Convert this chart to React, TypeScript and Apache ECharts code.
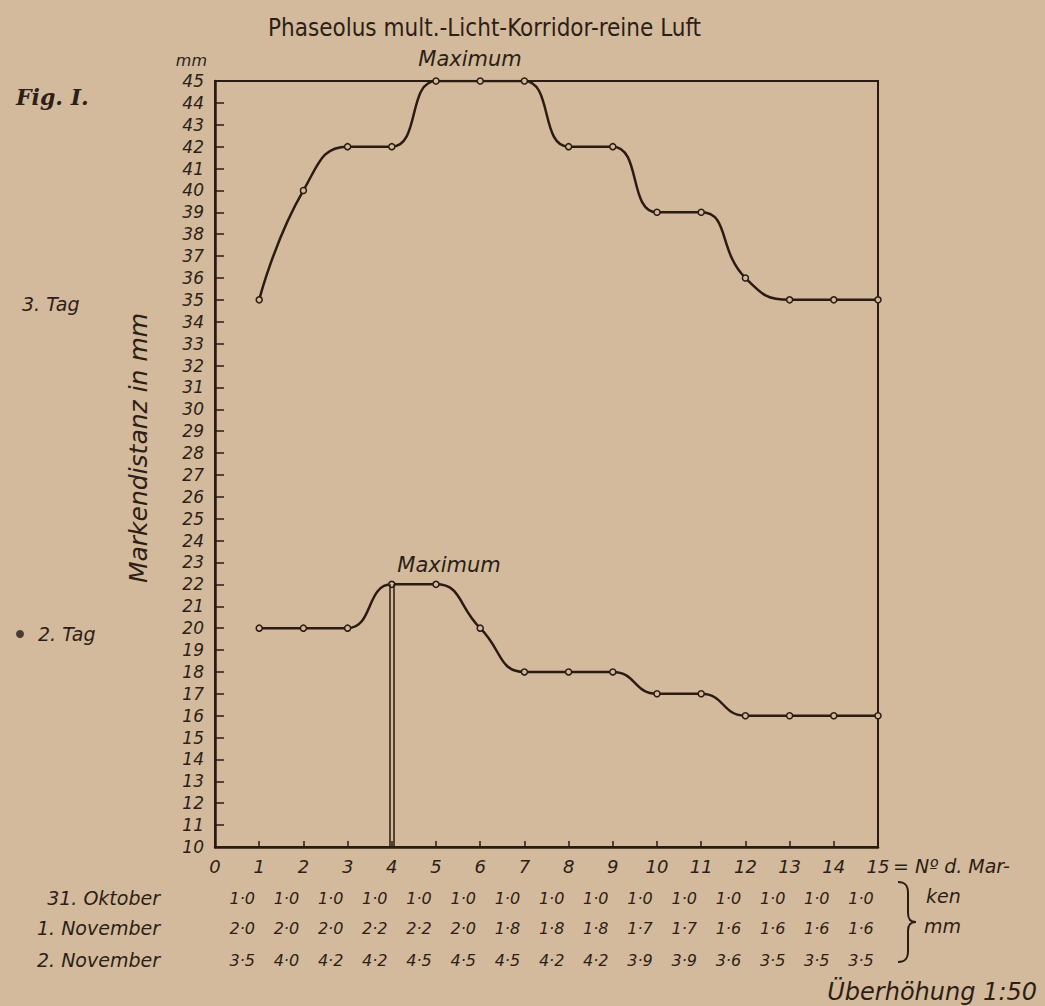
import React, { useEffect, useRef } from "react";
import * as echarts from "echarts";

// Marker numbers (x) and measured distances (mm)
const markerNumbers = [1, 2, 3, 4, 5, 6, 7, 8, 9, 10, 11, 12, 13, 14, 15];
const tag3Values = [35, 40, 42, 42, 45, 45, 45, 42, 42, 39, 39, 36, 35, 35, 35];
const tag2Values = [20, 20, 20, 22, 22, 20, 18, 18, 18, 17, 17, 16, 16, 16, 16];

// Table below the chart (values in cm)
const rowOct31 = [1.0, 1.0, 1.0, 1.0, 1.0, 1.0, 1.0, 1.0, 1.0, 1.0, 1.0, 1.0, 1.0, 1.0, 1.0];
const rowNov1 = [2.0, 2.0, 2.0, 2.2, 2.2, 2.0, 1.8, 1.8, 1.8, 1.7, 1.7, 1.6, 1.6, 1.6, 1.6];
const rowNov2 = [3.5, 4.0, 4.2, 4.2, 4.5, 4.5, 4.5, 4.2, 4.2, 3.9, 3.9, 3.6, 3.5, 3.5, 3.5];
const rowLabels = ["31. Oktober", "1. November", "2. November"];

const title = "Phaseolus mult.-Licht-Korridor-reine Luft";

const BG = "#d3ba9c";
const INK = "#2d1e16";
const LINE = "#2a1b13";
const HAND = "'DejaVu Sans', 'Liberation Sans', sans-serif";

const BRACE_D =
  "M0,0 C7,0 10,3 10,11 L10,31 C10,37 12,40 18,40 C12,40 10,43 10,49 L10,69 C10,77 7,80 0,80";
echarts.graphic.registerShape("brace", (echarts.graphic as any).extendPath(BRACE_D, {}));

const fmt = (v: number) => v.toFixed(1).replace(".", "·");

function tableAxis(row: number[], margin: number) {
  return {
    type: "value",
    position: "bottom",
    min: 0,
    max: 15,
    interval: 1,
    axisLine: { show: false },
    axisTick: { show: false },
    splitLine: { show: false },
    axisLabel: {
      margin,
      color: INK,
      fontFamily: HAND,
      fontStyle: "italic",
      fontSize: 16,
      padding: [0, 34, 0, 0],
      formatter: (v: number) => {
        const i = Math.round(v) - 1;
        return i >= 0 && i < row.length ? fmt(row[i]) : "";
      },
    },
  };
}

export default function App() {
  const ref = useRef<HTMLDivElement>(null);
  useEffect(() => {
    if (!ref.current) return;
    const chart = echarts.init(ref.current, undefined, { renderer: "svg" });
    const italic = { fill: INK, fontFamily: HAND, fontStyle: "italic" };
    chart.setOption({
      animation: false,
      backgroundColor: BG,
      grid: {
        left: 215,
        right: 167,
        top: 81,
        bottom: 159,
        show: true,
        borderColor: LINE,
        borderWidth: 2,
        backgroundColor: "transparent",
      },
      xAxis: [
        {
          type: "value",
          min: 0,
          max: 15,
          interval: 1,
          axisLine: { lineStyle: { color: LINE, width: 2.5 } },
          axisTick: { inside: true, length: 6, lineStyle: { color: LINE, width: 1.5 } },
          splitLine: { show: false },
          axisLabel: {
            margin: 10,
            color: INK,
            fontFamily: HAND,
            fontStyle: "italic",
            fontSize: 18,
          },
        },
        tableAxis(rowOct31, 43),
        tableAxis(rowNov1, 73),
        tableAxis(rowNov2, 105),
      ],
      yAxis: {
        type: "value",
        min: 10,
        max: 45,
        interval: 1,
        axisLine: { lineStyle: { color: LINE, width: 2.5 } },
        axisTick: { inside: true, length: 9, lineStyle: { color: LINE, width: 1.5 } },
        splitLine: { show: false },
        axisLabel: {
          margin: 11,
          color: INK,
          fontFamily: HAND,
          fontStyle: "italic",
          fontSize: 17,
        },
      },
      series: [
        {
          name: "3. Tag",
          type: "line",
          smooth: 0.5,
          data: markerNumbers.map((m, i) => [m, tag3Values[i]]),
          symbol: "circle",
          symbolSize: 6,
          itemStyle: { color: BG, borderColor: LINE, borderWidth: 1.5 },
          lineStyle: { color: LINE, width: 2.5 },
        },
        {
          name: "2. Tag",
          type: "line",
          smooth: 0.5,
          data: markerNumbers.map((m, i) => [m, tag2Values[i]]),
          symbol: "circle",
          symbolSize: 6,
          itemStyle: { color: BG, borderColor: LINE, borderWidth: 1.5 },
          lineStyle: { color: LINE, width: 2.5 },
          markLine: {
            silent: true,
            symbol: ["none", "none"],
            label: { show: false },
            lineStyle: { color: LINE, width: 1.5, type: "solid" },
            data: [
              [{ coord: [3.95, 22] }, { coord: [3.95, 10] }],
              [{ coord: [4.05, 22] }, { coord: [4.05, 10] }],
            ],
          },
        },
      ],
      graphic: [
        {
          type: "text",
          left: 268,
          top: 16,
          style: {
            text: title,
            fill: INK,
            fontFamily: "'Liberation Sans Narrow', 'DejaVu Sans Condensed', 'DejaVu Sans', sans-serif",
            fontSize: 24,
          },
        },
        { type: "text", x: 16, y: 97, style: { ...italic, text: "Fig. I.", fontSize: 22, fontWeight: "bold", fontFamily: "'DejaVu Serif', serif", verticalAlign: "middle" } },
        { type: "text", x: 207, y: 60, style: { ...italic, text: "mm", fontSize: 16, align: "right", verticalAlign: "middle" } },
        { type: "text", x: 470, y: 59, style: { ...italic, text: "Maximum", fontSize: 21, align: "center", verticalAlign: "middle" } },
        { type: "text", x: 449, y: 565, style: { ...italic, text: "Maximum", fontSize: 21, align: "center", verticalAlign: "middle" } },
        { type: "text", x: 22, y: 304, style: { ...italic, text: "3. Tag", fontSize: 19, verticalAlign: "middle" } },
        { type: "circle", shape: { cx: 20, cy: 634, r: 4 }, style: { fill: "#4a3a36" } },
        { type: "text", x: 38, y: 634, style: { ...italic, text: "2. Tag", fontSize: 19, verticalAlign: "middle" } },
        {
          type: "text",
          x: 138,
          y: 448,
          rotation: Math.PI / 2,
          style: { ...italic, text: "Markendistanz in mm", fontSize: 25, align: "center", verticalAlign: "middle" },
        },
        { type: "text", x: 160, y: 898, style: { ...italic, text: rowLabels[0], fontSize: 19, align: "right", verticalAlign: "middle" } },
        { type: "text", x: 160, y: 928, style: { ...italic, text: rowLabels[1], fontSize: 19, align: "right", verticalAlign: "middle" } },
        { type: "text", x: 160, y: 960, style: { ...italic, text: rowLabels[2], fontSize: 19, align: "right", verticalAlign: "middle" } },
        { type: "text", x: 893, y: 866, style: { ...italic, text: "= Nº d. Mar-", fontSize: 19, verticalAlign: "middle" } },
        { type: "text", x: 926, y: 896, style: { ...italic, text: "ken", fontSize: 19, verticalAlign: "middle" } },
        { type: "text", x: 924, y: 926, style: { ...italic, text: "mm", fontSize: 19, verticalAlign: "middle" } },
        {
          type: "brace",
          x: 898,
          y: 882,
          style: { fill: "none", stroke: LINE, lineWidth: 2 },
        },
        { type: "text", x: 1037, y: 992, style: { ...italic, text: "Überhöhung 1:50", fontSize: 24, align: "right", verticalAlign: "middle" } },
      ],
    });
    return () => chart.dispose();
  }, []);
  return (
    <div
      ref={ref}
      style={{ position: "absolute", left: 0, top: 0, width: 1045, height: 1006 }}
    />
  );
}
